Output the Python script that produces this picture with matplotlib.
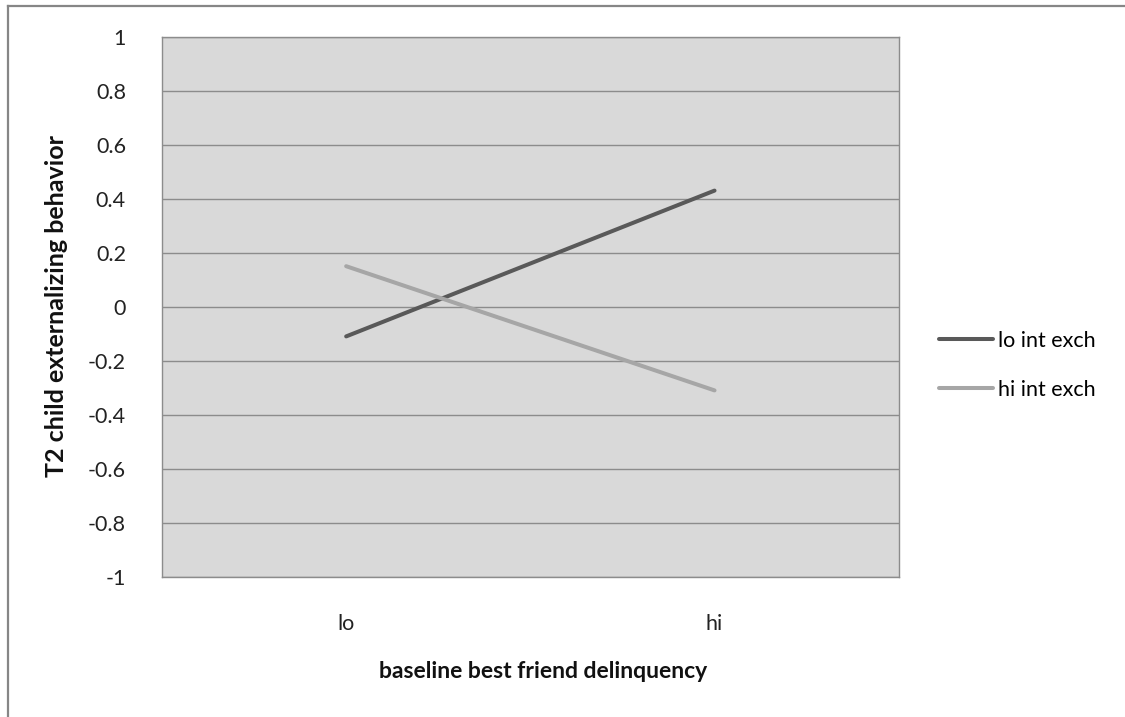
import matplotlib
matplotlib.use("Agg")
import matplotlib.pyplot as plt
from matplotlib.lines import Line2D

plt.rcParams['font.family'] = ['Lato', 'DejaVu Sans']

categories = ["lo", "hi"]
lo_int_exch = [-0.11, 0.43]
hi_int_exch = [0.15, -0.31]
series_names = ["lo int exch", "hi int exch"]
y_ticks = [1, 0.8, 0.6, 0.4, 0.2, 0, -0.2, -0.4, -0.6, -0.8, -1]
y_labels = ["1", "0.8", "0.6", "0.4", "0.2", "0", "-0.2", "-0.4", "-0.6", "-0.8", "-1"]

W, H = 1125, 717
fig = plt.figure(figsize=(W / 100, H / 100), dpi=100)
fig.patch.set_facecolor("white")

# figure border (top and left visible)
fig.add_artist(Line2D([8 / W, 8 / W], [0, 1 - 6 / H], transform=fig.transFigure,
                      color="#868686", lw=1.6))
fig.add_artist(Line2D([8 / W, 1], [1 - 6 / H, 1 - 6 / H], transform=fig.transFigure,
                      color="#868686", lw=1.6))

left, right = 162 / W, 898.7 / W
bottom, top = 1 - 576.7 / H, 1 - 36.7 / H
ax = fig.add_axes([left, bottom, right - left, top - bottom])
ax.set_facecolor("#d9d9d9")

x = list(range(len(categories)))
ax.set_xlim(-0.5, len(categories) - 0.5)
ax.set_ylim(-1, 1)
ax.set_yticks(y_ticks)
ax.set_yticklabels(y_labels)
ax.set_xticks(x)
ax.set_xticklabels(categories)

for yv in y_ticks:
    ax.axhline(yv, color="#8c8c8c", lw=1.0, zorder=1)

ax.plot(x, lo_int_exch, color="#595959", lw=2.9, solid_capstyle="round", zorder=3,
        label=series_names[0])
ax.plot(x, hi_int_exch, color="#a6a6a6", lw=2.9, solid_capstyle="round", zorder=3,
        label=series_names[1])

for s in ax.spines.values():
    s.set_color("#8c8c8c")
    s.set_linewidth(1.0)

ax.tick_params(axis="both", length=0, labelsize=15.5, colors="#222222")
ax.tick_params(axis="y", pad=26)
ax.tick_params(axis="x", pad=27)

fig.text(57 / W, 1 - 306 / H, "T2 child externalizing behavior", rotation=90,
         ha="center", va="center", fontsize=18, fontweight="bold", color="#111111")
fig.text(543 / W, 1 - 671 / H, "baseline best friend delinquency",
         ha="center", va="center", fontsize=16.5, fontweight="bold", color="#111111")

leg = fig.legend(loc="upper left", bbox_to_anchor=(928 / W, 1 - 320 / H),
                 frameon=False, fontsize=15.5, handlelength=2.5, handletextpad=0.25,
                 labelspacing=1.35, borderpad=0)

fig.savefig("out.png", dpi=100, facecolor="white")
